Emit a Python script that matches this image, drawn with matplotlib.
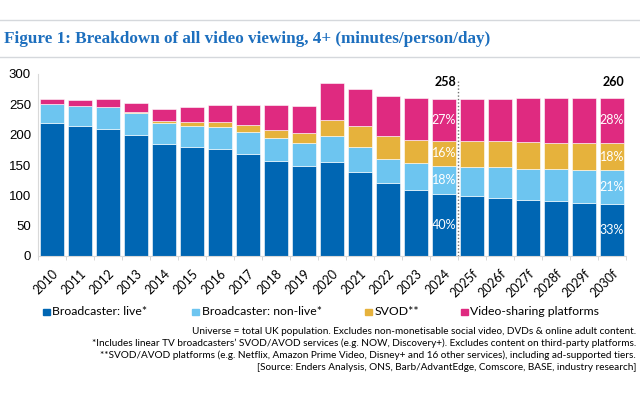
import matplotlib.pyplot as plt
import numpy as np
from matplotlib.lines import Line2D

years = ['2010', '2011', '2012', '2013', '2014', '2015', '2016', '2017', '2018', '2019',
         '2020', '2021', '2022', '2023', '2024', '2025f', '2026f', '2027f', '2028f', '2029f', '2030f']
live = [220, 214, 210, 199, 184, 179, 176, 168, 157, 148, 155, 139, 121, 109, 103, 99, 96, 92, 90, 88, 86]
nonlive = [30, 34, 36, 36, 35, 36, 37, 37, 38, 38, 42, 40, 39, 44, 46, 48, 50, 52, 53, 54, 55]
svod = [0, 0, 0, 2, 4, 6, 8, 11, 13, 17, 28, 35, 38, 39, 41, 42, 43, 44, 44, 45, 46]
vsp = [8, 9, 13, 15, 19, 24, 28, 33, 41, 45, 60, 61, 65, 68, 68, 70, 70, 72, 73, 73, 73]
series_names = ['Broadcaster: live*', 'Broadcaster: non-live*', 'SVOD**', 'Video-sharing platforms']
colors = ['#0066b3', '#6dc5f0', '#e6b23c', '#df2a80']
pct_2024 = ['40%', '18%', '16%', '27%']
pct_2030 = ['33%', '21%', '18%', '28%']
totals = {'2024': '258', '2030f': '260'}
notes = [
    'Universe = total UK population. Excludes non-monetisable social video, DVDs & online adult content.',
    '*Includes linear TV broadcasters\u2019 SVOD/AVOD services (e.g. NOW, Discovery+). Excludes content on third-party platforms.',
    '**SVOD/AVOD platforms (e.g. Netflix, Amazon Prime Video, Disney+ and 16 other services), including ad-supported tiers.',
    '[Source: Enders Analysis, ONS, Barb/AdvantEdge, Comscore, BASE, industry research]',
]

plt.rcParams['font.family'] = ['Lato', 'DejaVu Sans']

fig = plt.figure(figsize=(6.4, 3.94), dpi=100)
ax = fig.add_axes([38/640, 1-256/394, 588/640, 182/394])

x = np.arange(len(years))
data = [live, nonlive, svod, vsp]
bottom = np.zeros(len(years))
for vals, c in zip(data, colors):
    ax.bar(x, vals, 0.86, bottom=bottom, color=c, edgecolor='white', linewidth=0.4)
    bottom += np.array(vals)

# percentage labels + totals
for yr, pcts in [('2024', pct_2024), ('2030f', pct_2030)]:
    i = years.index(yr)
    b = 0
    for vals, p in zip(data, pcts):
        v = vals[i]
        ax.text(i + 0.43, b + v/2, p, color='white', ha='right', va='center', fontsize=9)
        b += v
    ax.text(i + 0.43, 287, totals[yr], ha='right', va='center', fontsize=9, fontweight='bold')

ax.axvline(14.5, ymin=0, ymax=0.97, color='#707070', linestyle=(0, (1, 1.5)), linewidth=1)

ax.set_xlim(-0.5, len(years) - 0.5)
ax.set_ylim(0, 300)
ax.set_yticks(range(0, 301, 50))
ax.set_yticklabels([str(v) for v in range(0, 301, 50)], family='Liberation Sans')
ax.set_xticks(x)
ax.set_xticklabels(years, rotation=45, ha='right', rotation_mode='anchor', fontsize=9)
ax.set_xticks(np.arange(-0.5, len(years), 1), minor=True)
ax.tick_params(axis='x', which='major', length=0, pad=8)
ax.tick_params(axis='x', which='minor', length=3, color='#d0d0d0')
ax.tick_params(axis='y', length=0, labelsize=9.5, pad=5)
for s in ['top', 'right']:
    ax.spines[s].set_visible(False)
ax.spines['left'].set_color('#d9d9d9')
ax.spines['bottom'].set_color('#d9d9d9')

# legend, placed item by item
leg_x = [43, 192, 365, 461]
for px, name, c in zip(leg_x, series_names, colors):
    fig.patches.append(plt.Rectangle((px/640, 1-315/394), 6.5/640, 6.5/394,
                                     transform=fig.transFigure, color=c))
    fig.text((px + 9.5)/640, 1-311.5/394, name, ha='left', va='center', fontsize=8.8)

# title and rules
fig.add_artist(Line2D([0, 1], [1-20/394, 1-20/394], color='#d5d8dc', linewidth=1))
fig.add_artist(Line2D([0, 1], [1-57/394, 1-57/394], color='#d5d8dc', linewidth=1))
fig.text(4/640, 1-39/394, 'Figure 1: Breakdown of all video viewing, 4+ (minutes/person/day)',
         family='Liberation Serif', fontweight='bold', fontsize=12.3, color='#1d6fbe',
         va='center', ha='left')

for k, t in enumerate(notes):
    fig.text(636/640, 1-(332 + 11.7*k)/394, t, ha='right', va='center', fontsize=7.2)

plt.savefig('out.png', dpi=100)
